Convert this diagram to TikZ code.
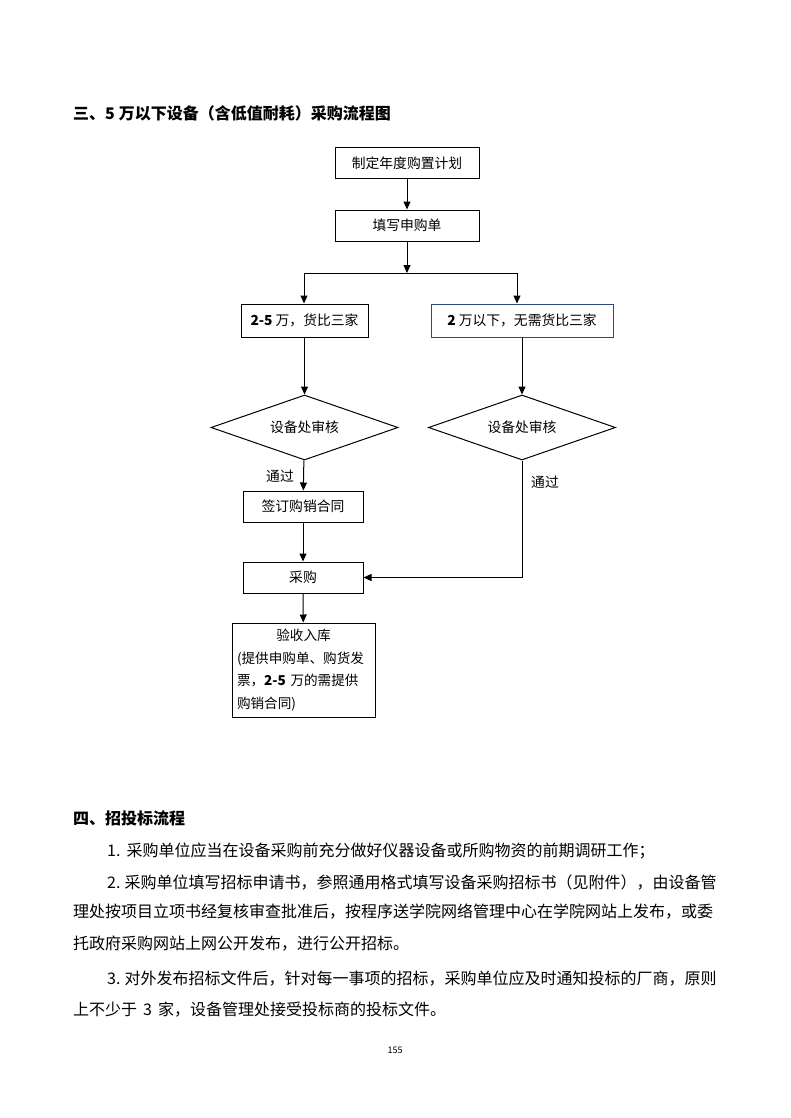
\documentclass[tikz,border=0pt]{standalone}
\usepackage{fontspec}
\setmainfont{Noto Sans CJK SC}
\usetikzlibrary{arrows.meta,shapes.geometric}
\XeTeXlinebreaklocale "zh"
\XeTeXlinebreakskip=0pt plus 2pt
\definecolor{boxblue}{HTML}{2F4A7A}
\tikzset{
  flow/.style={draw,line width=1pt,inner sep=0pt,font=\fontsize{13.8}{16}\selectfont},
  dia/.style={flow,shape=diamond,aspect=2.88,minimum width=187pt,minimum height=65pt},
  conn/.style={line width=1pt},
  arr/.style={conn,-{Triangle[length=8pt,width=7pt]}},
  lbl/.style={inner sep=0pt,font=\fontsize{13.8}{16}\selectfont},
  body/.style={inner sep=0pt,anchor=west,font=\fontsize{16}{20}\selectfont},
  head/.style={inner sep=0pt,anchor=west,font=\fontsize{16}{20}\selectfont\bfseries}
}
\begin{document}
\begin{tikzpicture}[x=1pt,y=-1pt]
\useasboundingbox[fill=white] (0,0) rectangle (790,1118);
\node[head] (t1) at (73,113) {三、5\kern4pt 万以下设备（含低值耐耗）采购流程图};

\node[flow,minimum width=144pt,minimum height=31pt] (b1) at (407,163) {制定年度购置计划};
\node[flow,minimum width=144pt,minimum height=31pt] (b2) at (407,225.5) {填写申购单};
\coordinate (br) at (407,273);
\coordinate (bl) at (304,273);
\coordinate (brr) at (517,273);
\node[flow,minimum width=127pt,minimum height=33pt] (lb) at (304.5,320.5) {{\bfseries 2-5} 万，货比三家};
\node[flow,draw=boxblue,minimum width=182pt,minimum height=33pt] (rb) at (522,320.5) {{\bfseries 2} 万以下，无需货比三家};
\node[dia] (ld) at (304.5,427.5) {设备处审核};
\node[dia] (rd) at (522,427.5) {设备处审核};
\node[lbl] (p1) at (280,476) {通过};
\node[lbl] (p2) at (545,482) {通过};
\node[flow,minimum width=120pt,minimum height=31pt] (sq) at (303,506.5) {签订购销合同};
\node[flow,minimum width=120pt,minimum height=31pt] (cg) at (303,577.5) {采购};
\node[flow,minimum width=143pt,minimum height=94pt,align=left,text width=133pt,font=\fontsize{13.6}{22.5}\selectfont] (ys) at (303.5,670)
  {\makebox[133pt]{验收入库}\\(提供申购单、购货发\\票，{\bfseries 2-5} 万的需提供\\购销合同)};

\draw[arr] (b1) -- (b2);
\draw[arr] (b2) -- (br);
\draw[conn] (bl) -- (brr);
\draw[arr] (bl) -- (bl |- lb.north);
\draw[arr] (brr) -- (brr |- rb.north);
\draw[arr] (lb) -- (ld);
\draw[arr] (rb) -- (rd);
\draw[arr] (ld) -- (sq);
\draw[arr] (sq) -- (cg);
\draw[arr] (rd.south) |- (cg.east);
\draw[arr] (cg) -- (ys);

\node[head] (t2) at (73,818) {四、招投标流程};
\node[body] (l1) at (107,851) {1.\kern6pt 采购单位应当在设备采购前充分做好仪器设备或所购物资的前期调研工作；};
\node[body] (l2) at (107,882) {\makebox[620pt][s]{2.\kern4pt 采购单位填写招标申请书，参照通用格式填写设备采购招标书（见附件），由设备管}};
\node[body] (l3) at (73,912) {\makebox[654pt][s]{理处按项目立项书经复核审查批准后，按程序送学院网络管理中心在学院网站上发布，或委}};
\node[body] (l4) at (73,944) {托政府采购网站上网公开发布，进行公开招标。};
\node[body] (l5) at (107,979) {\makebox[620pt][s]{3.\kern4pt 对外发布招标文件后，针对每一事项的招标，采购单位应及时通知投标的厂商，原则}};
\node[body] (l6) at (73,1010) {上不少于\kern6pt 3\kern6pt 家，设备管理处接受投标商的投标文件。};
\node[inner sep=0pt,font=\fontsize{9}{11}\selectfont] (pg) at (395,1050) {155};
\end{tikzpicture}
\end{document}
